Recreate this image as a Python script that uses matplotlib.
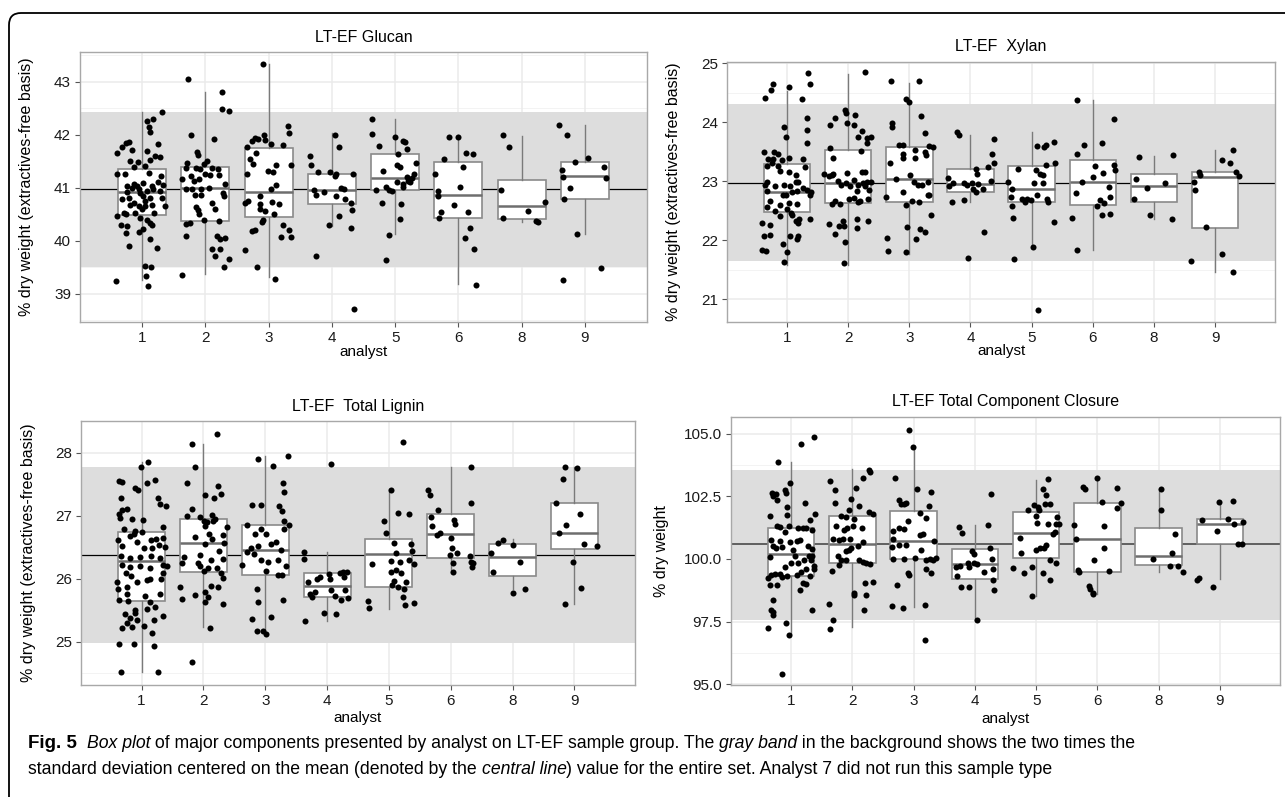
import matplotlib
matplotlib.use('Agg')
import matplotlib.pyplot as plt
from matplotlib.patches import FancyBboxPatch
from matplotlib.transforms import IdentityTransform

analysts = ['1', '2', '3', '4', '5', '6', '8', '9']

# ---- Glucan ----
glucan_q1 = [40.49, 40.37, 40.45, 40.69, 40.96, 40.43, 40.42, 40.79]
glucan_med = [40.93, 40.99, 40.93, 40.96, 41.18, 40.86, 40.66, 41.22]
glucan_q3 = [41.35, 41.39, 41.75, 41.26, 41.63, 41.48, 41.15, 41.48]
glucan_lo = [39.26, 39.37, 39.31, 40.28, 40.13, 39.18, 40.36, 40.13]
glucan_hi = [42.42, 42.80, 43.33, 42.04, 42.30, 41.99, 41.98, 42.18]
glucan_mean, glucan_band = 40.97, (39.50, 42.42)
# jittered points: (offset from analyst position, value)
glucan_pts = {
    '1': [(0.31, 42.43), (0.08, 42.25), (0.18, 42.30), (0.11, 42.14), (0.13, 42.06), (-0.21, 41.87),
          (-0.25, 41.84), (-0.31, 41.77), (-0.16, 41.72), (-0.39, 41.66), (0.26, 41.83), (0.08, 41.69),
          (0.21, 41.60), (0.29, 41.58), (0.12, 41.53), (-0.19, 41.50), (-0.07, 41.48), (-0.13, 41.40),
          (0.04, 41.41), (-0.39, 41.26), (-0.27, 41.26), (0.11, 41.27), (0.30, 41.23), (-0.12, 41.08),
          (0.02, 41.09), (-0.24, 41.03), (-0.16, 41.00), (-0.08, 41.04), (0.16, 41.04), (0.26, 41.11),
          (0.33, 41.06), (-0.24, 40.92), (-0.03, 40.91), (0.08, 40.94), (0.17, 40.97), (0.29, 40.94),
          (-0.21, 40.81), (0.01, 40.84), (-0.31, 40.78), (0.13, 40.80), (0.32, 40.80), (-0.19, 40.68),
          (-0.05, 40.65), (0.05, 40.65), (0.15, 40.68), (0.36, 40.65), (-0.29, 40.53), (-0.25, 40.50),
          (-0.11, 40.53), (0.19, 40.53), (-0.39, 40.47), (-0.03, 40.43), (0.08, 40.39), (0.12, 40.34),
          (0.16, 40.30), (-0.34, 40.29), (-0.24, 40.28), (0.02, 40.23), (-0.05, 40.17), (-0.26, 40.14),
          (0.13, 40.04), (-0.21, 39.91), (0.24, 39.87), (0.04, 39.52), (0.14, 39.51), (-0.41, 39.24),
          (0.06, 39.33), (0.10, 39.14), (-0.04, 40.97), (-0.13, 40.72), (0.05, 40.75), (0.00, 40.60)],
    '2': [(-0.28, 43.06), (0.27, 42.80), (0.27, 42.48), (0.37, 42.44), (-0.22, 42.00), (0.13, 41.92),
          (-0.13, 41.67), (-0.11, 41.61), (-0.29, 41.47), (0.03, 41.50), (-0.02, 41.44), (-0.14, 41.38),
          (-0.08, 41.35), (0.10, 41.38), (0.20, 41.36), (-0.30, 41.38), (-0.22, 41.22), (0.00, 41.26),
          (0.07, 41.25), (0.21, 41.24), (-0.37, 41.16), (-0.18, 41.13), (-0.10, 41.16), (0.31, 41.08),
          (-0.21, 40.98), (-0.07, 40.98), (0.06, 41.00), (-0.30, 40.97), (0.28, 40.91), (-0.16, 40.87),
          (-0.07, 40.86), (0.30, 40.84), (0.10, 40.72), (-0.15, 40.64), (-0.12, 40.58), (0.15, 40.60),
          (-0.10, 40.50), (-0.02, 40.40), (0.22, 40.37), (-0.24, 40.34), (-0.31, 40.31), (-0.30, 40.10),
          (0.19, 40.09), (0.24, 40.04), (0.31, 40.06), (0.11, 39.84), (0.24, 39.85), (0.15, 39.72),
          (0.37, 39.65), (0.30, 39.51), (-0.37, 39.36)],
    '3': [(-0.09, 43.33), (0.30, 42.16), (0.33, 42.04), (-0.22, 41.94), (-0.07, 41.99), (-0.17, 41.92),
          (-0.05, 41.91), (-0.26, 41.88), (0.04, 41.83), (0.23, 41.80), (-0.34, 41.77), (-0.20, 41.66),
          (-0.29, 41.55), (-0.24, 41.44), (0.11, 41.43), (0.36, 41.43), (-0.34, 41.26), (-0.01, 41.31),
          (0.07, 41.30), (0.11, 41.05), (0.04, 40.98), (-0.14, 40.84), (-0.37, 40.72), (-0.33, 40.75),
          (-0.14, 40.69), (0.05, 40.74), (0.17, 40.69), (-0.14, 40.60), (-0.05, 40.56), (0.08, 40.50),
          (-0.09, 40.40), (-0.10, 40.36), (-0.22, 40.20), (-0.26, 40.18), (0.23, 40.29), (0.33, 40.21),
          (0.19, 40.07), (0.36, 40.07), (-0.38, 39.82), (-0.19, 39.51), (0.10, 39.28)],
    '4': [(-0.35, 41.59), (-0.33, 41.43), (-0.22, 41.30), (-0.03, 41.29), (0.07, 41.26), (0.05, 41.23),
          (0.11, 41.76), (0.05, 41.99), (-0.28, 40.96), (-0.25, 40.86), (-0.12, 40.92), (0.07, 40.85),
          (0.15, 40.99), (0.19, 40.97), (0.20, 40.79), (0.33, 41.26), (0.30, 40.71), (0.32, 40.59),
          (0.12, 40.47), (-0.05, 40.29), (0.30, 40.25), (-0.25, 39.72), (0.35, 38.72)],
    '5': [(-0.37, 42.30), (-0.37, 42.01), (-0.25, 41.78), (-0.19, 41.31), (0.00, 41.96), (0.05, 41.63),
          (0.13, 41.89), (0.15, 41.87), (0.19, 41.73), (-0.21, 40.71), (-0.30, 40.96), (-0.15, 41.01),
          (-0.10, 40.96), (-0.05, 40.94), (0.03, 41.11), (0.07, 41.40), (0.03, 41.43), (0.12, 41.01),
          (0.19, 41.21), (0.21, 41.13), (0.23, 41.11), (0.27, 41.19), (0.30, 41.26), (0.33, 41.46),
          (0.12, 41.08), (0.10, 40.69), (0.07, 40.41), (-0.10, 40.11), (-0.15, 39.63)],
    '6': [(-0.37, 41.26), (-0.33, 40.94), (-0.33, 40.85), (-0.31, 40.44), (-0.27, 40.54), (-0.23, 41.54),
          (-0.15, 41.95), (0.00, 41.95), (0.07, 41.39), (-0.07, 40.68), (0.03, 41.01), (0.12, 41.65),
          (0.15, 40.54), (0.10, 40.05), (0.19, 40.24), (0.23, 41.63), (0.25, 39.85), (0.27, 39.17)],
    '8': [(-0.30, 41.99), (-0.20, 41.76), (-0.33, 40.96), (-0.29, 40.43), (0.10, 40.56), (0.23, 40.38),
          (0.25, 40.35), (0.37, 40.74)],
    '9': [(-0.41, 42.18), (-0.28, 41.99), (-0.37, 41.34), (-0.35, 41.21), (-0.33, 40.79), (-0.23, 40.99),
          (-0.15, 41.48), (-0.13, 40.13), (0.05, 41.57), (0.30, 41.40), (0.33, 41.19), (-0.35, 39.26),
          (0.25, 39.49)],
}

# ---- Xylan ----
xylan_q1 = [22.47, 22.63, 22.65, 22.81, 22.65, 22.60, 22.64, 22.21]
xylan_med = [22.81, 22.96, 23.03, 22.95, 22.86, 22.99, 22.92, 23.07]
xylan_q3 = [23.29, 23.53, 23.57, 23.21, 23.26, 23.35, 23.12, 23.15]
xylan_lo = [21.57, 21.57, 21.76, 22.64, 21.89, 21.83, 22.35, 21.45]
xylan_hi = [24.52, 24.81, 24.66, 23.78, 23.84, 24.38, 23.43, 23.53]
xylan_mean, xylan_band = 22.96, (21.64, 24.31)
xylan_pts = {
    '1': [(0.34, 24.84), (0.37, 24.65), (-0.23, 24.65), (-0.26, 24.54), (0.03, 24.60), (-0.36, 24.41),
          (0.25, 24.40), (-0.04, 23.92), (0.33, 24.07), (0.33, 23.87), (-0.02, 23.74), (0.33, 23.64),
          (-0.38, 23.50), (-0.21, 23.49), (-0.14, 23.46), (-0.31, 23.37), (-0.23, 23.37), (-0.08, 23.36),
          (0.03, 23.39), (0.27, 23.38), (-0.25, 23.30), (-0.15, 23.25), (-0.11, 23.17), (-0.33, 23.25),
          (0.30, 23.24), (0.15, 23.11), (0.03, 23.16), (-0.32, 22.99), (-0.19, 22.92), (-0.04, 22.94),
          (0.05, 22.91), (0.14, 22.99), (0.18, 22.98), (0.26, 22.89), (-0.36, 22.93), (-0.33, 22.84),
          (-0.07, 22.77), (-0.01, 22.77), (0.08, 22.82), (0.16, 22.84), (0.33, 22.85), (0.40, 22.82),
          (0.38, 22.77), (-0.27, 22.67), (-0.11, 22.60), (0.03, 22.63), (0.16, 22.61), (-0.33, 22.56),
          (-0.19, 22.50), (-0.11, 22.40), (0.00, 22.53), (0.07, 22.46), (0.08, 22.43), (0.14, 22.32),
          (0.18, 22.29), (0.20, 22.35), (0.37, 22.35), (-0.40, 22.29), (-0.27, 22.26), (-0.38, 22.07),
          (-0.28, 22.08), (0.05, 22.07), (0.16, 22.01), (0.18, 22.07), (-0.40, 21.83), (-0.34, 21.82),
          (0.00, 21.80), (-0.07, 21.93), (-0.05, 21.62)],
    '2': [(0.28, 24.85), (-0.05, 24.21), (-0.04, 24.15), (0.12, 24.12), (-0.22, 24.07), (-0.29, 23.95),
          (0.09, 23.95), (-0.01, 23.99), (0.22, 23.85), (0.16, 23.75), (0.31, 23.73), (0.38, 23.75),
          (0.31, 23.65), (-0.29, 23.56), (0.21, 23.51), (-0.25, 23.40), (-0.39, 23.12), (-0.32, 23.08),
          (-0.27, 23.11), (-0.25, 23.12), (-0.16, 23.01), (-0.11, 22.94), (-0.03, 22.97), (0.03, 22.91),
          (-0.01, 23.13), (0.10, 23.02), (0.16, 22.94), (0.23, 23.15), (0.28, 23.16), (0.25, 22.97),
          (0.31, 22.98), (0.38, 22.99), (0.27, 22.91), (0.34, 22.85), (0.15, 22.83), (0.09, 22.71),
          (0.02, 22.70), (-0.13, 22.61), (-0.22, 22.66), (-0.26, 22.61), (0.20, 22.67), (0.17, 22.64),
          (0.33, 22.69), (-0.32, 22.28), (-0.22, 22.10), (-0.15, 22.23), (-0.09, 22.32), (-0.06, 22.24),
          (0.15, 22.35), (0.14, 22.20), (0.33, 22.33), (-0.05, 21.97), (-0.06, 21.61)],
    '3': [(-0.30, 24.70), (0.16, 24.70), (-0.06, 24.40), (-0.01, 24.34), (0.20, 24.11), (-0.28, 23.99),
          (-0.28, 23.92), (0.25, 23.82), (-0.16, 23.61), (-0.11, 23.61), (0.32, 23.60), (0.39, 23.57),
          (0.10, 23.52), (0.25, 23.50), (0.27, 23.44), (-0.11, 23.46), (-0.10, 23.39), (0.10, 23.40),
          (-0.31, 23.30), (0.01, 23.10), (-0.22, 23.03), (0.07, 22.98), (0.15, 22.94), (0.21, 22.94),
          (0.31, 22.99), (-0.11, 22.81), (0.05, 22.66), (0.16, 22.65), (0.30, 22.77), (0.33, 22.77),
          (-0.38, 22.73), (-0.06, 22.59), (0.35, 22.43), (-0.03, 22.22), (0.17, 22.18), (0.26, 22.14),
          (0.11, 22.02), (-0.36, 22.04), (-0.34, 21.81), (-0.06, 21.80)],
    '4': [(-0.22, 23.84), (-0.18, 23.78), (0.09, 23.21), (0.11, 23.12), (0.28, 23.24), (0.38, 23.72),
          (0.36, 23.46), (0.39, 23.30), (-0.36, 23.05), (-0.35, 22.91), (-0.28, 22.97), (-0.11, 22.97),
          (-0.06, 22.94), (0.03, 22.96), (0.12, 22.95), (0.05, 22.86), (0.09, 22.82), (0.21, 22.86),
          (0.34, 23.00), (-0.30, 22.65), (-0.11, 22.68), (0.23, 22.13), (-0.04, 21.69)],
    '5': [(-0.39, 22.99), (-0.32, 22.86), (-0.33, 22.73), (-0.32, 22.58), (-0.30, 22.37), (-0.28, 21.68),
          (-0.23, 23.21), (-0.15, 22.69), (-0.11, 22.65), (-0.08, 22.70), (-0.01, 22.68), (0.04, 22.97),
          (0.07, 23.18), (0.09, 22.77), (0.09, 23.60), (0.14, 23.12), (0.18, 22.97), (0.19, 23.10),
          (0.20, 23.58), (0.23, 23.62), (0.26, 22.69), (0.27, 22.65), (0.24, 23.28), (0.36, 23.66),
          (0.36, 22.31), (0.38, 23.31), (0.02, 21.89), (0.11, 20.81)],
    '6': [(-0.26, 24.38), (-0.15, 23.62), (-0.26, 23.46), (-0.28, 22.79), (-0.34, 22.37), (-0.26, 21.83),
          (-0.17, 22.99), (0.00, 23.07), (0.03, 23.25), (0.07, 22.58), (0.12, 22.68), (0.15, 23.64),
          (0.17, 23.13), (0.18, 22.63), (0.15, 22.42), (0.27, 22.90), (0.28, 22.73), (0.29, 22.45),
          (0.34, 24.05), (0.34, 23.27), (0.37, 23.18)],
    '8': [(-0.25, 23.41), (-0.30, 23.04), (-0.33, 22.70), (-0.11, 22.89), (-0.06, 22.42), (0.18, 22.96),
          (0.31, 23.44), (0.30, 22.36)],
    '9': [(-0.39, 21.64), (-0.35, 22.99), (-0.33, 22.85), (-0.26, 23.15), (-0.24, 23.10), (-0.15, 22.22),
          (0.11, 21.76), (0.12, 23.35), (0.24, 23.31), (0.29, 21.45), (0.29, 23.53), (0.34, 23.15),
          (0.39, 23.08)],
}

# ---- Total lignin ----
lignin_q1 = [25.65, 26.10, 26.06, 25.71, 25.87, 26.32, 26.04, 26.47]
lignin_med = [26.28, 26.56, 26.45, 25.88, 26.39, 26.70, 26.34, 26.72]
lignin_q3 = [26.74, 26.94, 26.85, 26.08, 26.62, 27.03, 26.54, 27.20]
lignin_lo = [24.51, 25.23, 25.12, 25.33, 25.52, 26.10, 25.83, 25.60]
lignin_hi = [27.85, 28.14, 27.94, 26.42, 27.42, 27.77, 26.63, 27.77]
lignin_mean, lignin_band = 26.38, (24.97, 27.77)
lignin_pts = {
    '1': [(0.11, 27.85), (-0.01, 27.77), (-0.37, 27.54), (-0.31, 27.53), (0.22, 27.56), (0.08, 27.52),
          (-0.11, 27.44), (-0.06, 27.40), (-0.34, 27.28), (0.26, 27.28), (0.30, 27.19), (0.39, 27.15),
          (-0.31, 27.08), (-0.37, 27.03), (-0.23, 27.10), (-0.35, 26.96), (-0.16, 26.95), (0.03, 26.93),
          (-0.29, 26.78), (-0.10, 26.75), (-0.38, 26.61), (-0.18, 26.68), (-0.12, 26.70), (0.01, 26.74),
          (0.15, 26.61), (0.24, 26.62), (0.34, 26.82), (0.35, 26.64), (-0.31, 26.51), (-0.08, 26.58),
          (0.04, 26.49), (0.17, 26.49), (0.28, 26.53), (0.38, 26.50), (-0.34, 26.36), (-0.18, 26.32),
          (-0.03, 26.34), (0.16, 26.36), (0.30, 26.33), (0.41, 26.20), (-0.31, 26.21), (-0.19, 26.19),
          (-0.03, 26.20), (0.14, 26.16), (0.34, 26.21), (-0.26, 26.09), (-0.17, 26.04), (0.09, 25.97),
          (0.13, 26.00), (0.31, 26.00), (0.34, 26.08), (-0.39, 25.95), (-0.23, 25.86), (-0.08, 25.94),
          (-0.38, 25.83), (-0.23, 25.75), (0.06, 25.73), (0.29, 25.75), (-0.37, 25.66), (-0.22, 25.64),
          (0.14, 25.63), (0.21, 25.55), (-0.11, 25.50), (-0.27, 25.43), (-0.10, 25.46), (0.09, 25.51),
          (0.34, 25.41), (-0.19, 25.37), (-0.07, 25.34), (-0.24, 25.29), (-0.31, 25.22), (-0.15, 25.23),
          (0.04, 25.25), (0.20, 25.34), (0.17, 25.14), (-0.37, 24.96), (-0.12, 24.96), (0.20, 24.93),
          (-0.33, 24.51), (0.26, 24.51)],
    '2': [(0.22, 28.30), (-0.19, 28.13), (-0.13, 27.77), (-0.26, 27.52), (0.23, 27.47), (0.03, 27.32),
          (0.17, 27.28), (0.29, 27.34), (-0.19, 27.10), (-0.26, 27.00), (-0.05, 26.98), (0.14, 27.01),
          (0.18, 26.95), (0.01, 26.91), (0.06, 26.90), (0.16, 26.91), (0.03, 26.83), (0.09, 26.71),
          (0.38, 26.81), (-0.13, 26.66), (0.32, 26.69), (0.14, 26.63), (0.02, 26.54), (0.33, 26.56),
          (0.26, 26.43), (-0.31, 26.34), (-0.06, 26.37), (0.12, 26.29), (0.32, 26.31), (-0.34, 26.25),
          (-0.08, 26.24), (-0.05, 26.20), (0.01, 26.12), (0.08, 26.17), (0.22, 26.17), (0.29, 26.08),
          (0.32, 26.01), (-0.38, 25.87), (-0.13, 25.74), (0.02, 25.79), (0.13, 25.88), (0.23, 25.87),
          (0.08, 25.71), (0.02, 25.63), (0.32, 25.59), (-0.34, 25.67), (0.10, 25.22), (-0.19, 24.67)],
    '3': [(0.37, 27.94), (-0.12, 27.89), (0.12, 27.79), (0.28, 27.51), (0.30, 27.38), (-0.22, 27.16),
          (-0.07, 27.16), (0.23, 27.15), (0.27, 27.07), (0.31, 26.91), (0.39, 26.85), (-0.29, 26.85),
          (-0.07, 26.78), (-0.17, 26.70), (0.01, 26.70), (0.18, 26.58), (0.31, 26.78), (0.09, 26.54),
          (-0.23, 26.49), (-0.12, 26.52), (-0.30, 26.42), (-0.19, 26.39), (0.25, 26.45), (-0.07, 26.29),
          (0.04, 26.27), (0.20, 26.29), (-0.38, 26.21), (0.33, 26.20), (0.02, 26.12), (0.20, 26.05),
          (0.27, 26.05), (-0.14, 25.84), (0.28, 25.66), (-0.11, 25.62), (-0.21, 25.36), (0.09, 25.39),
          (-0.14, 25.16), (-0.04, 25.16), (0.02, 25.12)],
    '4': [(-0.38, 26.42), (-0.38, 26.31), (-0.31, 25.94), (-0.27, 25.75), (-0.25, 25.70), (-0.19, 25.78),
          (-0.16, 25.99), (-0.12, 26.02), (0.03, 26.07), (0.05, 26.00), (0.07, 25.82), (0.12, 25.72),
          (0.21, 26.08), (0.25, 26.10), (0.27, 26.02), (0.29, 25.82), (0.32, 26.11), (0.34, 25.69),
          (0.23, 25.66), (0.14, 25.43), (-0.05, 25.45), (-0.36, 25.33), (0.07, 27.82)],
    '5': [(-0.34, 25.65), (-0.32, 25.53), (-0.27, 26.23), (-0.08, 26.92), (-0.04, 26.73), (0.03, 27.41),
          (0.04, 26.28), (0.04, 26.11), (0.05, 25.90), (0.09, 25.96), (0.11, 26.40), (0.12, 26.14),
          (0.14, 27.04), (0.18, 26.27), (0.20, 26.08), (0.23, 25.71), (0.25, 25.83), (0.33, 27.03),
          (0.26, 25.58), (0.28, 25.94), (0.32, 26.30), (0.35, 26.55), (0.37, 26.44), (0.40, 26.23),
          (0.23, 28.17), (0.14, 25.86), (0.08, 26.56), (0.40, 25.61)],
    '6': [(-0.36, 27.40), (-0.34, 27.32), (-0.32, 26.98), (-0.31, 26.83), (-0.21, 27.09), (-0.22, 26.69),
          (-0.17, 26.72), (-0.01, 26.38), (0.02, 26.48), (0.03, 26.25), (0.05, 26.93), (0.07, 26.87),
          (0.10, 26.40), (0.00, 26.64), (0.03, 26.10), (0.33, 27.77), (0.33, 27.20), (0.31, 26.35),
          (0.33, 26.27), (0.34, 26.19), (0.36, 26.24)],
    '8': [(-0.35, 26.40), (-0.32, 26.11), (-0.23, 26.57), (-0.16, 26.61), (0.01, 26.53), (0.12, 26.27),
          (0.01, 25.77), (0.20, 25.84)],
    '9': [(-0.29, 27.20), (-0.18, 27.58), (-0.15, 27.77), (-0.13, 26.85), (0.04, 27.75), (0.09, 27.02),
          (-0.03, 26.27), (-0.25, 26.72), (0.16, 26.54), (0.36, 26.52), (0.11, 25.85), (-0.15, 25.60)],
}

# ---- Total component closure ----
closure_q1 = [99.33, 99.85, 99.99, 99.18, 100.02, 99.48, 99.74, 100.59]
closure_med = [100.18, 100.60, 100.71, 99.81, 101.04, 100.78, 100.10, 101.41]
closure_q3 = [101.25, 101.73, 101.92, 100.38, 101.88, 102.24, 101.25, 101.61]
closure_lo = [96.99, 97.27, 98.09, 97.56, 98.52, 98.59, 99.49, 99.18]
closure_hi = [103.86, 103.59, 104.51, 101.36, 103.14, 103.21, 102.78, 102.29]
closure_mean, closure_band = 100.58, (97.56, 103.54)
closure_pts = {
    '1': [(0.37, 104.85), (0.16, 104.59), (-0.21, 103.86), (-0.02, 103.03), (-0.31, 102.61), (-0.24, 102.57),
          (-0.10, 102.74), (-0.08, 102.63), (-0.23, 102.34), (-0.29, 102.50), (0.22, 102.21), (-0.07, 102.07),
          (0.39, 101.79), (0.31, 101.57), (-0.34, 101.70), (-0.06, 101.74), (-0.23, 101.30), (-0.18, 101.27),
          (-0.04, 101.30), (0.12, 101.22), (0.20, 101.24), (0.25, 101.24), (0.34, 101.17), (-0.10, 101.06),
          (0.09, 100.73), (-0.02, 100.66), (-0.33, 100.74), (-0.18, 100.70), (0.15, 100.77), (-0.29, 100.50),
          (-0.24, 100.44), (-0.15, 100.48), (0.04, 100.37), (0.28, 100.53), (0.34, 100.40), (-0.35, 100.08),
          (-0.10, 99.68), (0.07, 100.11), (0.12, 99.84), (0.21, 99.97), (0.30, 100.13), (0.32, 99.97),
          (0.35, 100.13), (0.37, 99.73), (0.00, 99.84), (0.17, 99.47), (0.25, 99.61), (-0.38, 99.22),
          (-0.33, 99.37), (-0.26, 99.41), (-0.18, 99.40), (-0.07, 99.31), (-0.34, 98.97), (-0.23, 98.97),
          (-0.15, 99.27), (0.09, 99.37), (0.20, 99.04), (0.24, 99.00), (0.31, 99.31), (0.37, 99.60),
          (0.15, 98.75), (-0.29, 98.35), (-0.33, 97.98), (-0.30, 97.87), (-0.29, 97.78), (0.35, 97.98),
          (-0.08, 97.45), (-0.37, 97.25), (-0.03, 96.98), (-0.14, 95.41)],
    '2': [(0.27, 103.56), (0.29, 103.46), (0.18, 103.23), (0.06, 102.83), (-0.28, 102.74), (-0.36, 103.10),
          (-0.02, 102.39), (0.11, 102.10), (-0.29, 102.21), (-0.05, 101.97), (0.28, 101.86), (0.33, 101.79),
          (-0.18, 101.70), (-0.10, 101.67), (0.03, 101.59), (-0.27, 101.30), (-0.13, 101.17), (-0.09, 101.24),
          (0.01, 101.30), (0.16, 101.24), (-0.21, 100.77), (-0.32, 100.80), (-0.16, 100.80), (-0.03, 100.80),
          (0.17, 100.66), (-0.05, 100.37), (-0.02, 100.44), (0.10, 100.50), (-0.11, 100.31), (-0.24, 100.13),
          (-0.18, 99.97), (-0.10, 99.97), (0.11, 99.95), (0.17, 99.87), (0.22, 99.84), (0.29, 99.80),
          (-0.21, 99.77), (-0.33, 99.51), (0.21, 99.02), (0.02, 98.64), (0.03, 98.54), (0.22, 98.54),
          (0.33, 99.07), (-0.38, 98.22), (0.19, 97.95), (-0.32, 97.55), (-0.36, 97.21)],
    '3': [(-0.07, 105.13), (-0.01, 104.45), (-0.31, 103.23), (0.05, 102.77), (0.28, 102.66), (-0.23, 102.34),
          (-0.21, 102.17), (-0.15, 102.17), (-0.12, 102.23), (0.25, 102.10), (-0.09, 101.50), (-0.33, 101.10),
          (-0.23, 101.24), (-0.15, 101.20), (0.11, 101.83), (0.21, 101.63), (0.15, 101.01), (0.11, 100.97),
          (-0.34, 100.80), (0.34, 100.70), (0.31, 99.97), (0.36, 100.04), (-0.36, 100.46), (-0.23, 100.57),
          (-0.12, 100.57), (0.12, 100.35), (0.21, 99.97), (0.26, 100.01), (-0.33, 100.01), (-0.15, 100.00),
          (0.02, 100.04), (-0.09, 99.44), (-0.08, 99.35), (0.21, 99.60), (0.29, 99.44), (-0.27, 98.97),
          (-0.36, 98.14), (-0.18, 98.04), (0.18, 98.18), (0.19, 96.78)],
    '4': [(-0.26, 101.28), (-0.21, 101.04), (-0.30, 99.69), (-0.24, 99.72), (-0.29, 99.33), (-0.22, 98.86),
          (-0.09, 98.86), (-0.12, 99.82), (-0.02, 99.82), (0.03, 99.80), (-0.05, 100.33), (-0.02, 100.19),
          (0.15, 99.49), (0.22, 101.35), (0.27, 102.57), (0.25, 100.45), (0.28, 99.98), (0.30, 99.58),
          (0.30, 99.16), (0.32, 98.76), (0.03, 97.56), (-0.09, 99.69)],
    '5': [(-0.38, 99.62), (-0.19, 99.42), (-0.26, 100.82), (-0.24, 100.25), (-0.13, 101.95), (-0.04, 102.14),
          (-0.01, 101.71), (0.03, 102.08), (0.05, 101.97), (0.01, 101.44), (0.11, 102.77), (0.16, 102.54),
          (0.15, 102.18), (0.19, 101.41), (0.23, 102.17), (0.19, 103.17), (0.13, 100.42), (0.06, 100.42),
          (0.16, 100.55), (-0.01, 100.35), (-0.07, 99.69), (-0.07, 98.52), (0.11, 99.45), (0.22, 99.95),
          (0.23, 99.16), (0.30, 101.08), (0.33, 99.85), (0.33, 101.41), (0.38, 101.39), (0.34, 101.68),
          (0.28, 100.98)],
    '6': [(-0.38, 101.35), (-0.35, 100.78), (-0.32, 99.56), (-0.30, 99.49), (-0.24, 102.85), (-0.20, 102.77),
          (-0.13, 98.92), (-0.12, 98.79), (-0.08, 98.63), (-0.07, 98.59), (-0.05, 99.95), (0.00, 103.21),
          (0.07, 102.25), (0.10, 100.45), (0.10, 101.31), (0.19, 99.52), (0.32, 102.81), (0.32, 102.04),
          (0.38, 102.24)],
    '8': [(-0.09, 99.98), (0.03, 102.77), (0.03, 101.95), (0.18, 99.73), (0.22, 100.22), (0.26, 100.98),
          (0.32, 99.73), (0.40, 99.46)],
    '9': [(-0.38, 99.16), (-0.34, 99.25), (-0.12, 98.86), (-0.30, 101.55), (-0.05, 101.10), (-0.01, 102.25),
          (0.13, 101.61), (0.22, 102.30), (0.23, 101.41), (0.36, 100.59), (0.30, 100.59), (0.38, 101.48)],
}

W, H = 1285, 797


def px_box(left, top, right, bottom):
    return [left / W, 1 - bottom / H, (right - left) / W, (bottom - top) / H]


def panel(fig, box, title, title_y, ylabel, ylabel_x, q1, med, q3, lo, hi, mean, band, pts,
          ylim, yticks, ylabfmt, xlab_y, mean_color='black', mean_lw=0.9):
    ax = fig.add_axes(px_box(*box))
    ax.set_xlim(0.02, 8.98)
    ax.set_ylim(*ylim)
    pos = list(range(1, len(analysts) + 1))
    # grid (major + minor), drawn under the band
    step = yticks[1] - yticks[0]
    for yv in yticks:
        ax.axhline(yv, color='#ebebeb', lw=1.1, zorder=0.5)
    minor = [yticks[0] - step / 2] + [t + step / 2 for t in yticks]
    for yv in minor:
        ax.axhline(yv, color='#f1f1f1', lw=0.6, zorder=0.5)
    for p in pos:
        ax.axvline(p, color='#ebebeb', lw=1.1, zorder=0.5)
    ax.axhspan(band[0], band[1], color='#dddddd', lw=0, zorder=1)
    ax.axhline(mean, color=mean_color, lw=mean_lw, zorder=2)

    stats = []
    for i, a in enumerate(analysts):
        stats.append(dict(med=med[i], q1=q1[i], q3=q3[i], whislo=lo[i], whishi=hi[i], fliers=[]))
    ax.bxp(stats, positions=pos, widths=0.76, patch_artist=True, showfliers=False,
           showcaps=False, manage_ticks=False,
           boxprops=dict(facecolor='white', edgecolor='#8a8a8a', lw=1.2),
           whiskerprops=dict(color='#7a7a7a', lw=1.0),
           medianprops=dict(color='#6e6e6e', lw=1.8), zorder=3)

    for i, a in enumerate(analysts):
        xs = [pos[i] + d for d, v in pts[a]]
        ys = [v for d, v in pts[a]]
        ax.scatter(xs, ys, s=19, color='black', lw=0, zorder=4)

    ax.set_xticks(pos)
    ax.set_xticklabels(analysts)
    ax.set_yticks(yticks)
    ax.set_yticklabels([ylabfmt % t for t in yticks])
    ax.tick_params(length=3.5, width=0.8, color='#555555', labelsize=11, labelcolor='#1a1a1a', pad=3)
    for s in ax.spines.values():
        s.set_color('#a8a8a8')
        s.set_linewidth(1.0)
    fig.text((box[0] + box[2]) / 2 / W, 1 - title_y / H, title, fontsize=11.5,
             ha='center', va='center')
    ax.set_xlabel('analyst', fontsize=11)
    ax.xaxis.set_label_coords(0.5, xlab_y)
    ax.set_ylabel(ylabel, fontsize=11.5)
    ax.yaxis.set_label_coords(ylabel_x, 0.5)
    return ax


plt.rcParams['font.family'] = ['Liberation Sans', 'DejaVu Sans']
fig = plt.figure(figsize=(W / 100, H / 100), dpi=100)

ylab_long = '% dry weight (extractives-free basis)'
panel(fig, (80, 52, 647, 322), 'LT-EF Glucan', 38, ylab_long, -0.081,
      glucan_q1, glucan_med, glucan_q3, glucan_lo, glucan_hi, glucan_mean, glucan_band, glucan_pts,
      (38.47, 43.56), [39, 40, 41, 42, 43], '%d', -0.085)
panel(fig, (727, 62, 1275, 322), 'LT-EF  Xylan', 47, ylab_long, -0.084,
      xylan_q1, xylan_med, xylan_q3, xylan_lo, xylan_hi, xylan_mean, xylan_band, xylan_pts,
      (20.61, 25.02), [21, 22, 23, 24, 25], '%d', -0.085)
panel(fig, (81, 421, 635, 685), 'LT-EF  Total Lignin', 406, ylab_long, -0.081,
      lignin_q1, lignin_med, lignin_q3, lignin_lo, lignin_hi, lignin_mean, lignin_band, lignin_pts,
      (24.31, 28.50), [25, 26, 27, 28], '%d', -0.10)
panel(fig, (731, 417, 1280, 685), 'LT-EF Total Component Closure', 402, '% dry weight', -0.113,
      closure_q1, closure_med, closure_q3, closure_lo, closure_hi, closure_mean, closure_band,
      closure_pts, (94.97, 105.66), [95.0, 97.5, 100.0, 102.5, 105.0], '%.1f', -0.10,
      mean_color='#555555', mean_lw=1.3)

# rounded frame around the figure
frame = FancyBboxPatch((9, -20), 1310, H - 13 + 20, boxstyle='round,pad=0,rounding_size=12',
                       transform=IdentityTransform(), fill=False, edgecolor='black', lw=1.3)
fig.add_artist(frame)

# caption with mixed styles
line1 = [('Fig. 5', 'bold'), ('  ', 'normal'), ('Box plot', 'italic'),
         (' of major components presented by analyst on LT-EF sample group. The ', 'normal'),
         ('gray band', 'italic'), (' in the background shows the two times the', 'normal')]
line2 = [('standard deviation centered on the mean (denoted by the ', 'normal'), ('central line', 'italic'),
         (') value for the entire set. Analyst 7 did not run this sample type', 'normal')]

renderer = fig.canvas.get_renderer()


def draw_line(runs, x, y, size):
    for txt, style in runs:
        t = fig.text(x, H - y, txt, fontsize=size + (0.8 if style == 'bold' else 0),
                     fontweight='bold' if style == 'bold' else 'normal',
                     fontstyle='italic' if style == 'italic' else 'normal',
                     transform=IdentityTransform(), va='center', ha='left')
        bb = t.get_window_extent(renderer)
        x = bb.x1


draw_line(line1, 28, 744, 12.7)
draw_line(line2, 28, 769, 12.7)

fig.savefig('out.png', dpi=100)
